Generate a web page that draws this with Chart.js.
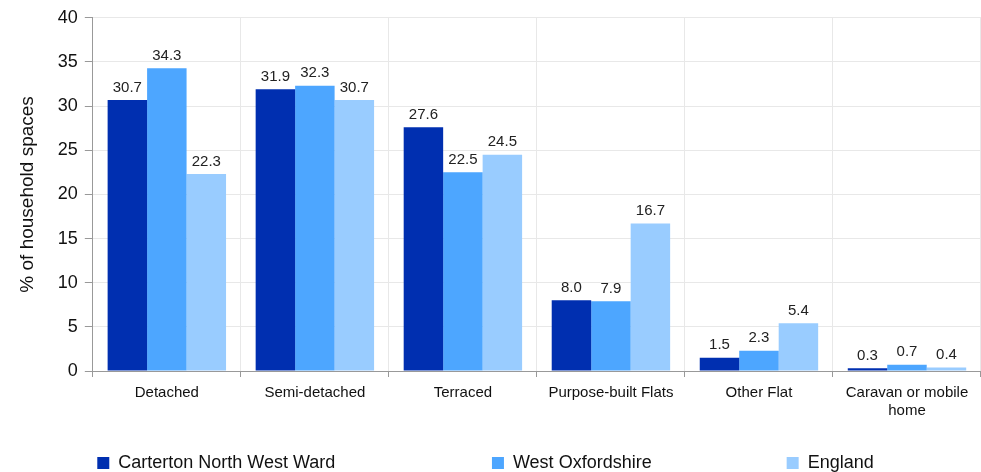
<!DOCTYPE html>
<html>
<head>
<meta charset="utf-8">
<script src="https://cdn.jsdelivr.net/npm/chart.js@4/dist/chart.umd.min.js"></script>
<style>
  html, body { margin: 0; padding: 0; background: #fff; }
  #wrap { width: 981px; height: 472px; }
</style>
</head>
<body>
<div id="wrap"><canvas id="myChart"></canvas></div>
<script>
const categories = ['Detached', 'Semi-detached', 'Terraced', 'Purpose-built Flats', 'Other Flat', ['Caravan or mobile', 'home']];
const seriesNames = ['Carterton North West Ward', 'West Oxfordshire', 'England'];
const ward = [30.7, 31.9, 27.6, 8.0, 1.5, 0.3];
const district = [34.3, 32.3, 22.5, 7.9, 2.3, 0.7];
const england = [22.3, 30.7, 24.5, 16.7, 5.4, 0.4];
const colours = ['#002fb0', '#4da6ff', '#99ccff'];

const FONT = '"Liberation Sans", Arial, sans-serif';
// blank space after each legend text to spread the items out
const legendGaps = ['\u2003'.repeat(8) + '\u2002\u2009', '\u2003'.repeat(7) + '\u2002', '\u2003'];

// draw the value above every bar
const barLabels = {
    id: 'barLabels',
    afterDatasetsDraw(chart) {
        const ctx = chart.ctx;
        ctx.save();
        ctx.font = '15px ' + FONT;
        ctx.fillStyle = '#222';
        ctx.textAlign = 'center';
        ctx.textBaseline = 'bottom';
        chart.data.datasets.forEach(function (ds, i) {
            chart.getDatasetMeta(i).data.forEach(function (bar, j) {
                ctx.fillText(ds.data[j].toFixed(1), bar.x, bar.y - 5);
            });
        });
        ctx.restore();
    }
};

const ctx = document.getElementById('myChart').getContext('2d');
const myChart = new Chart(ctx, {
    type: 'bar',
    data: {
        labels: categories,
        datasets: [
            { label: seriesNames[0], data: ward, backgroundColor: colours[0] },
            { label: seriesNames[1], data: district, backgroundColor: colours[1] },
            { label: seriesNames[2], data: england, backgroundColor: colours[2] }
        ]
    },
    options: {
        responsive: true,
        maintainAspectRatio: false,
        animation: false,
        layout: { padding: { top: 8, right: 0, left: 8, bottom: -10 } },
        datasets: { bar: { categoryPercentage: 0.8, barPercentage: 1.0 } },
        plugins: {
            tooltip: { enabled: false },
            legend: {
                position: 'bottom',
                labels: {
                    boxWidth: 12,
                    boxHeight: 12,
                    padding: 0,
                    color: '#111',
                    font: { size: 18, family: FONT },
                    generateLabels: function (chart) {
                        const items = Chart.defaults.plugins.legend.labels.generateLabels(chart);
                        items.forEach(function (it, i) {
                            it.text = it.text + legendGaps[i];
                        });
                        return items;
                    }
                }
            }
        },
        scales: {
            x: {
                grid: { color: '#e8e8e8', tickColor: '#999', tickLength: 6 },
                border: { color: '#999' },
                ticks: {
                    color: '#111',
                    maxRotation: 0,
                    padding: 7,
                    font: { size: 15, family: FONT, lineHeight: 1.2 }
                },
                afterFit: function (scale) {
                    scale.height += 27;
                }
            },
            y: {
                min: 0,
                max: 40,
                grid: { color: '#e8e8e8', tickColor: '#999', tickLength: 8 },
                border: { color: '#999' },
                ticks: {
                    stepSize: 5,
                    color: '#111',
                    padding: 7,
                    font: { size: 18, family: FONT }
                },
                title: {
                    display: true,
                    text: '% of household spaces',
                    color: '#111',
                    padding: { top: 8, bottom: 12 },
                    font: { size: 19, family: FONT }
                }
            }
        }
    },
    plugins: [barLabels]
});
</script>
</body>
</html>
